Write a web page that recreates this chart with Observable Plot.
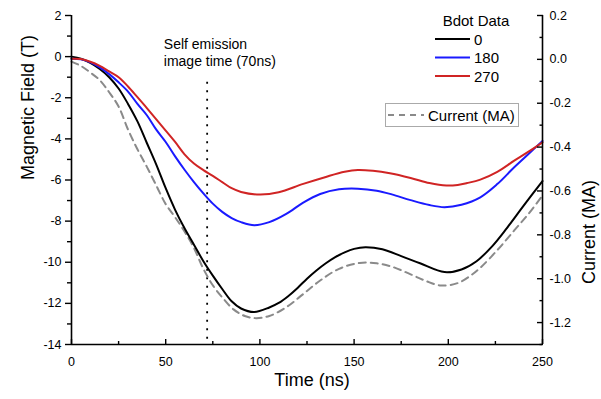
<!DOCTYPE html>
<html><head><meta charset="utf-8">
<script src="https://cdn.jsdelivr.net/npm/d3@7"></script>
<script src="https://cdn.jsdelivr.net/npm/@observablehq/plot@0.6"></script>
<style>
body{margin:0;background:#fff;font-family:"Liberation Sans",Arial,sans-serif;}
#wrap{position:relative;width:601px;height:399px;overflow:hidden;}
#legend{position:absolute;left:0;top:0;}
</style>
</head><body><div id="wrap"></div>
<script>
// ---- data ----
const t0   = [0,5,10,15,20,25,30,35,40,45,50,55,60,65,70,75,80,85,90,97,105,110,115,120,125,130,135,140,145,150,156,165,175,185,198,207,215,223,231,240,250];
const b0   = [0,-0.1,-0.3,-0.6,-1.0,-1.55,-2.3,-3.15,-4.2,-5.25,-6.4,-7.45,-8.35,-9.15,-9.95,-10.65,-11.3,-11.9,-12.25,-12.42,-12.2,-11.98,-11.65,-11.25,-10.8,-10.4,-10.05,-9.75,-9.52,-9.35,-9.27,-9.37,-9.7,-10.05,-10.48,-10.35,-9.95,-9.25,-8.35,-7.25,-6.05];
const t180 = [0,5,10,15,20,25,30,35,40,45,50,55,60,65,70,75,80,85,90,97,105,114,123,132,142,152,162,170,180,190,198,207,217,226,235,243,250];
const b180 = [-0.1,-0.13,-0.28,-0.52,-0.85,-1.25,-1.7,-2.3,-2.85,-3.55,-4.15,-4.85,-5.5,-6.1,-6.65,-7.15,-7.55,-7.85,-8.05,-8.2,-8.05,-7.65,-7.1,-6.68,-6.45,-6.42,-6.52,-6.7,-6.98,-7.22,-7.32,-7.2,-6.84,-6.2,-5.38,-4.7,-4.1];
const t270 = [0,5,10,15,20,25,30,35,40,45,50,55,60,65,70,75,80,85,90,100,110,123,135,145,152,160,169,180,190,199,205,210,217,226,235,243,250];
const b270 = [-0.1,-0.12,-0.25,-0.45,-0.72,-1.0,-1.45,-1.97,-2.5,-3.05,-3.6,-4.15,-4.75,-5.2,-5.52,-5.8,-6.1,-6.4,-6.58,-6.71,-6.6,-6.19,-5.85,-5.6,-5.51,-5.55,-5.67,-5.9,-6.15,-6.27,-6.24,-6.15,-5.98,-5.6,-5.06,-4.6,-4.17];
const tCur = [0,5,10,15,20,25,30,35,40,45,50,55,60,65,70,75,80,86,92,98,105,114,123,132,142,153,162,170,180,188,196,205,212,217,226,235,243,250];
const iCur = [-0.01,-0.03,-0.06,-0.095,-0.15,-0.215,-0.32,-0.41,-0.49,-0.575,-0.66,-0.72,-0.785,-0.86,-0.955,-1.03,-1.085,-1.14,-1.17,-1.18,-1.17,-1.13,-1.07,-1.008,-0.955,-0.928,-0.93,-0.945,-0.98,-1.01,-1.031,-1.02,-0.985,-0.95,-0.87,-0.78,-0.70,-0.62];

const seriesNames = ["0","180","270"];
const seriesColors = ["#000000","#1a1aff","#d02424"];
const currentName = "Current (MA)";
const currentColor = "#8a8a8a";

const xMajor = [0,50,100,150,200,250];
const xMinor = [25,75,125,175,225];
const yMajor = [-14,-12,-10,-8,-6,-4,-2,0,2];
const yMinor = [-13,-11,-9,-7,-5,-3,-1,1];
const iMajor = [-1.2,-1.0,-0.8,-0.6,-0.4,-0.2,0.0,0.2];
const iMinor = [-1.3,-1.1,-0.9,-0.7,-0.5,-0.3,-0.1,0.1];

const markerTime = 72;               // dotted "self emission" line
const markerTop = -1.25;
const noteText = "Self emission\nimage time (70ns)";
const noteX = 49, noteY = 0.95;

const xDomain = [0,250], yDomain = [-14,2], iDomain = [-1.3,0.2];
const toB = i => yDomain[0] + (i - iDomain[0])/(iDomain[1]-iDomain[0])*(yDomain[1]-yDomain[0]);
const toI = b => iDomain[0] + (b - yDomain[0])/(yDomain[1]-yDomain[0])*(iDomain[1]-iDomain[0]);
const fmtNum = (v, d) => { const r = +v.toFixed(d); const s = Math.abs(r).toFixed(d); return (r < 0 ? "-" : "") + s; };

const rows = (ts, vs, s) => ts.map((t,k) => ({t, v: vs[k], s}));
const bData = [...rows(t0,b0,"0"), ...rows(t180,b180,"180"), ...rows(t270,b270,"270")];
const cData = rows(tCur, iCur, currentName);

const W = 601, H = 399;
const font = "'Liberation Sans', Arial, sans-serif";

const chart = Plot.plot({
  width: W, height: H,
  marginLeft: 71, marginRight: 59, marginTop: 15, marginBottom: 55,
  style: {fontFamily: font, fontSize: "12.5px", color: "#000", background: "#fff", overflow: "visible"},
  x: {domain: xDomain, label: null},
  y: {domain: yDomain, label: null},
  color: {domain: seriesNames, range: seriesColors},
  marks: [
    Plot.ruleX([markerTime], {y1: markerTop, y2: yDomain[0], stroke: "#000", strokeWidth: 1.8, strokeDasharray: "1.8,6.7"}),
    Plot.line(cData, {x: "t", y: d => toB(d.v), stroke: currentColor, strokeWidth: 2, strokeDasharray: "7,5", curve: "catmull-rom"}),
    Plot.line(bData, {x: "t", y: "v", z: "s", stroke: "s", strokeWidth: 2, curve: "catmull-rom"}),
    Plot.text([noteText], {x: noteX, y: noteY, textAnchor: "start", lineAnchor: "top", fontSize: 14, lineHeight: 1.22, fill: "#000"}),
    // axis lines
    Plot.ruleX(xDomain, {y1: yDomain[0], y2: yDomain[1], stroke: "#000", strokeWidth: 1.6}),
    Plot.ruleY([yDomain[0]], {x1: xDomain[0], x2: xDomain[1], stroke: "#000", strokeWidth: 1.6}),
    // left axis
    Plot.axisY(yMajor, {anchor: "left", tickSize: 6, tickPadding: 4, strokeWidth: 1.4, tickFormat: d => fmtNum(d,0), label: null}),
    Plot.axisY(yMinor, {anchor: "left", tickSize: 4, strokeWidth: 1.4, tickFormat: () => "", label: null}),
    // bottom axis
    Plot.axisX(xMajor, {anchor: "bottom", tickSize: -5, tickPadding: 18, strokeWidth: 1.4, tickFormat: d => fmtNum(d,0), label: null}),
    Plot.axisX(xMinor, {anchor: "bottom", tickSize: -3, strokeWidth: 1.4, tickFormat: () => "", label: null}),
    // right axis (current)
    Plot.axisY(iMajor.map(toB), {anchor: "right", tickSize: -6, tickPadding: 13, strokeWidth: 1.4, tickFormat: b => fmtNum(toI(b),1), label: null}),
    Plot.axisY(iMinor.map(toB), {anchor: "right", tickSize: -3.5, strokeWidth: 1.4, tickFormat: () => "", label: null}),
    // axis titles
    Plot.text(["Magnetic Field (T)"], {frameAnchor: "left", rotate: -90, dx: -43, fontSize: 18, fill: "#000"}),
    Plot.text(["Current (MA)"], {frameAnchor: "right", rotate: -90, dx: 47, fontSize: 18, fill: "#000"}),
    Plot.text(["Time (ns)"], {frameAnchor: "bottom", dy: 41, dx: 5, fontSize: 18, fill: "#000"})
  ]
});

const wrap = document.getElementById("wrap");
wrap.appendChild(chart);

// legend overlay (inside plot area, as in the reference)
const lg = d3.select(wrap).append("svg").attr("id","legend").attr("width", W).attr("height", H)
  .style("font-family", font).style("pointer-events","none");
lg.append("text").attr("x", 476).attr("y", 26).attr("text-anchor","middle").attr("font-size", 15).text("Bdot Data");
seriesNames.forEach((name, k) => {
  const y = 39 + k*18.5;
  lg.append("line").attr("x1", 435).attr("x2", 470).attr("y1", y).attr("y2", y)
    .attr("stroke", seriesColors[k]).attr("stroke-width", 2);
  lg.append("text").attr("x", 474).attr("y", y + 5.5).attr("font-size", 15).text(name);
});
lg.append("rect").attr("x", 385.5).attr("y", 103.5).attr("width", 133).attr("height", 23)
  .attr("fill", "#fff").attr("stroke", "#aaa").attr("stroke-width", 1);
lg.append("line").attr("x1", 388).attr("x2", 424).attr("y1", 115).attr("y2", 115)
  .attr("stroke", currentColor).attr("stroke-width", 2).attr("stroke-dasharray", "6,5");
lg.append("text").attr("x", 428).attr("y", 120.5).attr("font-size", 15).text(currentName);
</script>
</body></html>
